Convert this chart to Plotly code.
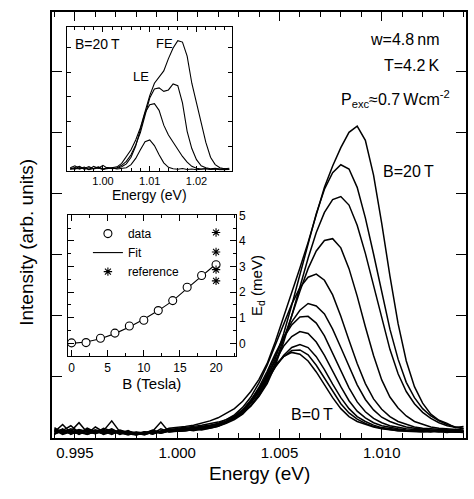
import plotly.graph_objects as go

# ---- main panel: PL spectra, B = 0 ... 20 T ----
energy = [0.9940, 0.9944, 0.9948, 0.9952, 0.9956, 0.9960, 0.9964, 0.9968, 0.9972, 0.9976,
          0.9980, 0.9984, 0.9988, 0.9992, 0.9996, 1.0000, 1.0004, 1.0008, 1.0012, 1.0016,
          1.0020, 1.0024, 1.0028, 1.0032, 1.0036, 1.0040, 1.0044, 1.0048, 1.0052, 1.0056,
          1.0060, 1.0064, 1.0068, 1.0072, 1.0076, 1.0080, 1.0084, 1.0088, 1.0092, 1.0096,
          1.0100, 1.0104, 1.0108, 1.0112, 1.0116, 1.0120, 1.0124, 1.0128, 1.0132, 1.0136,
          1.0140]

pl_0T = [0.10, 0.22, 0.08, 0.12, 0.06, 0.11, 0.09, 0.14, 0.07, 0.10, 0.05, 0.08, 0.12, 0.09, 0.13,
         0.11, 0.14, 0.12, 0.15, 0.18, 0.22, 0.27, 0.34, 0.46, 0.62, 0.81, 1.01, 1.20, 1.33, 1.40,
         1.37, 1.26, 1.08, 0.87, 0.66, 0.48, 0.35, 0.27, 0.22, 0.18, 0.15, 0.13, 0.12, 0.11, 0.11,
         0.10, 0.12, 0.10, 0.09, 0.11, 0.10]
pl_2T = [0.14, 0.07, 0.11, 0.25, 0.09, 0.13, 0.06, 0.10, 0.12, 0.08, 0.06, 0.09, 0.07, 0.15, 0.10,
         0.11, 0.12, 0.13, 0.14, 0.16, 0.19, 0.25, 0.32, 0.42, 0.57, 0.76, 0.97, 1.17, 1.33, 1.43,
         1.44, 1.36, 1.19, 0.98, 0.76, 0.56, 0.41, 0.31, 0.24, 0.19, 0.16, 0.14, 0.12, 0.12, 0.11,
         0.11, 0.10, 0.13, 0.10, 0.10, 0.09]
pl_4T = [0.06, 0.13, 0.09, 0.08, 0.14, 0.07, 0.12, 0.28, 0.10, 0.06, 0.08, 0.05, 0.10, 0.08, 0.12,
         0.11, 0.12, 0.14, 0.13, 0.16, 0.19, 0.24, 0.30, 0.39, 0.53, 0.72, 0.94, 1.16, 1.35, 1.48,
         1.53, 1.48, 1.33, 1.12, 0.88, 0.66, 0.48, 0.35, 0.27, 0.21, 0.17, 0.15, 0.13, 0.12, 0.12,
         0.11, 0.11, 0.10, 0.12, 0.10, 0.10]
pl_6T = [0.12, 0.09, 0.15, 0.10, 0.07, 0.18, 0.10, 0.08, 0.13, 0.09, 0.07, 0.10, 0.06, 0.11, 0.14,
         0.11, 0.12, 0.13, 0.15, 0.17, 0.20, 0.25, 0.33, 0.41, 0.58, 0.78, 1.02, 1.27, 1.50, 1.66,
         1.74, 1.71, 1.57, 1.35, 1.09, 0.84, 0.61, 0.44, 0.33, 0.25, 0.20, 0.17, 0.15, 0.13, 0.12,
         0.12, 0.11, 0.11, 0.10, 0.10, 0.10]
pl_8T = [0.08, 0.15, 0.06, 0.13, 0.11, 0.08, 0.16, 0.11, 0.07, 0.12, 0.06, 0.07, 0.11, 0.26, 0.10,
         0.12, 0.13, 0.14, 0.15, 0.18, 0.21, 0.27, 0.34, 0.45, 0.61, 0.83, 1.09, 1.38, 1.64, 1.85,
         1.98, 1.99, 1.88, 1.67, 1.39, 1.10, 0.82, 0.59, 0.43, 0.32, 0.25, 0.20, 0.17, 0.15, 0.14,
         0.13, 0.12, 0.12, 0.11, 0.11, 0.11]
pl_10T = [0.17, 0.08, 0.12, 0.07, 0.16, 0.10, 0.07, 0.13, 0.09, 0.05, 0.09, 0.06, 0.09, 0.10, 0.12,
          0.12, 0.13, 0.14, 0.16, 0.19, 0.22, 0.27, 0.34, 0.44, 0.59, 0.79, 1.05, 1.34, 1.64, 1.90,
          2.09, 2.20, 2.16, 2.03, 1.78, 1.48, 1.16, 0.87, 0.63, 0.46, 0.34, 0.27, 0.22, 0.18, 0.16,
          0.14, 0.13, 0.13, 0.12, 0.12, 0.11]
pl_12T = [0.09, 0.12, 0.20, 0.09, 0.08, 0.13, 0.11, 0.06, 0.12, 0.08, 0.10, 0.08, 0.13, 0.08, 0.11,
          0.13, 0.14, 0.15, 0.17, 0.20, 0.24, 0.30, 0.38, 0.50, 0.67, 0.90, 1.19, 1.52, 1.87, 2.19,
          2.46, 2.63, 2.68, 2.58, 2.34, 1.99, 1.60, 1.22, 0.89, 0.64, 0.47, 0.35, 0.27, 0.22, 0.18,
          0.16, 0.15, 0.14, 0.13, 0.13, 0.12]
pl_14T = [0.13, 0.06, 0.10, 0.14, 0.10, 0.07, 0.13, 0.09, 0.11, 0.07, 0.05, 0.10, 0.08, 0.12, 0.15,
          0.14, 0.15, 0.16, 0.18, 0.20, 0.22, 0.26, 0.32, 0.40, 0.53, 0.69, 0.92, 1.23, 1.60, 2.00,
          2.40, 2.77, 3.06, 3.23, 3.26, 3.11, 2.77, 2.32, 1.82, 1.35, 0.95, 0.67, 0.49, 0.36, 0.27,
          0.22, 0.18, 0.16, 0.15, 0.14, 0.13]
pl_16T = [0.07, 0.11, 0.08, 0.11, 0.13, 0.12, 0.08, 0.12, 0.06, 0.10, 0.08, 0.06, 0.10, 0.09, 0.13,
          0.15, 0.16, 0.17, 0.19, 0.21, 0.23, 0.27, 0.32, 0.41, 0.52, 0.68, 0.89, 1.19, 1.56, 2.00,
          2.47, 2.94, 3.36, 3.69, 3.90, 3.95, 3.81, 3.48, 3.02, 2.48, 1.94, 1.45, 1.05, 0.76, 0.56,
          0.42, 0.32, 0.25, 0.20, 0.17, 0.15]
pl_18T = [0.11, 0.14, 0.07, 0.09, 0.06, 0.10, 0.14, 0.07, 0.10, 0.11, 0.07, 0.09, 0.07, 0.11, 0.12,
          0.16, 0.17, 0.19, 0.21, 0.23, 0.26, 0.30, 0.36, 0.46, 0.58, 0.75, 0.99, 1.30, 1.70, 2.17,
          2.68, 3.19, 3.67, 4.07, 4.34, 4.47, 4.40, 4.10, 3.60, 3.01, 2.37, 1.78, 1.29, 0.91, 0.66,
          0.48, 0.36, 0.28, 0.22, 0.18, 0.16]
pl_20T = [0.15, 0.09, 0.13, 0.06, 0.12, 0.09, 0.10, 0.15, 0.08, 0.06, 0.09, 0.07, 0.12, 0.10, 0.16,
          0.17, 0.19, 0.21, 0.24, 0.28, 0.33, 0.40, 0.48, 0.60, 0.76, 0.96, 1.22, 1.58, 1.98, 2.36,
          2.78, 3.20, 3.65, 4.10, 4.45, 4.75, 5.00, 5.10, 4.87, 4.30, 3.51, 2.65, 1.87, 1.26, 0.84,
          0.57, 0.39, 0.29, 0.24, 0.17, 0.19]

spectra = [pl_0T, pl_2T, pl_4T, pl_6T, pl_8T, pl_10T, pl_12T, pl_14T, pl_16T, pl_18T, pl_20T]

# ---- upper inset: B = 20 T spectra ----
energy_in = [0.993, 0.994, 0.995, 0.996, 0.997, 0.998, 0.999, 1.000, 1.001, 1.002,
             1.003, 1.004, 1.005, 1.006, 1.007, 1.008, 1.009, 1.010, 1.011, 1.012,
             1.013, 1.014, 1.015, 1.016, 1.017, 1.018, 1.019, 1.020, 1.021, 1.022,
             1.023, 1.024, 1.025, 1.026, 1.027]
inset_a = [0.12, 0.20, 0.08, 0.15, 0.05, 0.18, 0.10, 0.22, 0.09, 0.14,
           0.16, 0.30, 0.55, 0.85, 1.25, 1.75, 2.40, 3.05, 3.55, 3.78,
           4.05, 4.55, 4.98, 5.28, 5.22, 4.65, 3.55, 2.75, 1.90, 1.15,
           0.55, 0.25, 0.12, 0.08, 0.10]
inset_b = [0.08, 0.14, 0.18, 0.06, 0.12, 0.09, 0.16, 0.07, 0.13, 0.10,
           0.12, 0.22, 0.38, 0.65, 1.05, 1.55, 2.25, 2.95, 3.32, 3.36,
           3.22, 3.28, 3.52, 3.45, 2.75, 1.60, 0.90, 0.45, 0.20, 0.12,
           0.08, 0.10, 0.07, 0.09, 0.06]
inset_c = [0.10, 0.06, 0.13, 0.09, 0.17, 0.07, 0.11, 0.05, 0.12, 0.08,
           0.10, 0.16, 0.28, 0.55, 1.00, 1.70, 2.35, 2.68, 2.72, 2.45,
           1.85, 1.45, 1.15, 0.85, 0.58, 0.35, 0.18, 0.10, 0.07, 0.09,
           0.05, 0.08, 0.06, 0.04, 0.07]
inset_d = [0.05, 0.10, 0.07, 0.12, 0.04, 0.09, 0.14, 0.06, 0.08, 0.11,
           0.07, 0.09, 0.12, 0.25, 0.50, 0.85, 1.18, 1.25, 1.02, 0.65,
           0.32, 0.14, 0.08, 0.06, 0.09, 0.05, 0.07, 0.04, 0.06, 0.08,
           0.05, 0.07, 0.04, 0.06, 0.05]

# ---- lower inset: E_d versus B ----
field = [0, 2, 4, 6, 8, 10, 12, 14, 16, 18, 20]
ed_data = [0.02, 0.03, 0.20, 0.40, 0.68, 0.90, 1.28, 1.67, 2.19, 2.65, 3.07]
ed_fit = [0.00, 0.05, 0.18, 0.38, 0.64, 0.94, 1.28, 1.66, 2.15, 2.62, 3.10]
ref_field = [20, 20, 20, 20]
ed_ref = [4.33, 3.57, 2.88, 2.44]

W, H = 474, 499
ML, MR, MT, MB = 52, 7, 6, 61
PW, PH = W - ML - MR, H - MT - MB


def px(x):
    return (x - ML) / PW


def py(y):
    return (H - MB - y) / PH


FONT = "Liberation Sans, Arial, Helvetica, sans-serif"

fig = go.Figure()

for s in spectra:
    fig.add_trace(go.Scatter(x=energy, y=s, mode="lines", line=dict(color="black", width=1.5),
                             showlegend=False, xaxis="x", yaxis="y"))

for s in [inset_a, inset_b, inset_c, inset_d]:
    fig.add_trace(go.Scatter(x=energy_in, y=s, mode="lines", line=dict(color="black", width=1.1),
                             showlegend=False, xaxis="x2", yaxis="y2"))

fig.add_trace(go.Scatter(x=field, y=ed_fit, mode="lines", name="Fit", legendrank=2,
                         line=dict(color="black", width=1.1), xaxis="x3", yaxis="y3"))
fig.add_trace(go.Scatter(x=field, y=ed_data, mode="markers", name="data", legendrank=1,
                         marker=dict(symbol="circle", size=8, color="white",
                                     line=dict(color="black", width=1.1)),
                         xaxis="x3", yaxis="y3"))
fig.add_trace(go.Scatter(x=ref_field, y=ed_ref, mode="markers", name="reference", legendrank=3,
                         marker=dict(symbol="asterisk-open", size=7, color="black",
                                     line=dict(color="black", width=1.1)),
                         xaxis="x3", yaxis="y3"))

axis_common = dict(showline=True, linecolor="black", mirror="ticks", ticks="inside",
                   tickcolor="black", showgrid=False, zeroline=False)

fig.update_layout(
    width=W, height=H,
    margin=dict(l=ML, r=MR, t=MT, b=MB),
    paper_bgcolor="white", plot_bgcolor="white",
    font=dict(family=FONT, color="black"),
    xaxis=dict(axis_common, domain=[0, 1], anchor="y", range=[0.99388, 1.01412],
               tick0=0.995, dtick=0.005, tickformat=".3f", ticklen=9, tickwidth=1.2,
               linewidth=1.5, tickfont=dict(size=15),
               minor=dict(dtick=0.001, tick0=0.995, ticklen=5, ticks="inside",
                          tickcolor="black", tickwidth=1)),
    yaxis=dict(axis_common, domain=[0, 1], anchor="x", range=[0, 6.968], tick0=0, dtick=1,
               ticklen=10, tickwidth=1.2, linewidth=1.5, showticklabels=False),
    xaxis2=dict(axis_common, domain=[px(67), px(232)], anchor="y2", range=[0.9923, 1.0275],
                tick0=1.0, dtick=0.01, tickformat=".2f", ticklen=5, linewidth=1,
                tickfont=dict(size=11),
                minor=dict(dtick=0.002, tick0=1.0, ticklen=3, ticks="inside", tickcolor="black"),
                title=dict(text="Energy (eV)", font=dict(size=14), standoff=1)),
    yaxis2=dict(axis_common, domain=[py(167), py(21)], anchor="x2", range=[0, 5.84],
                tick0=0, dtick=1, ticklen=4, linewidth=1, showticklabels=False),
    xaxis3=dict(axis_common, domain=[px(68), px(236)], anchor="y3", range=[-0.5, 22.7],
                tick0=0, dtick=5, ticklen=6, linewidth=1, tickfont=dict(size=12),
                minor=dict(dtick=2.5, tick0=0, ticklen=3, ticks="inside", tickcolor="black"),
                title=dict(text="B (Tesla)", font=dict(size=15), standoff=2)),
    yaxis3=dict(axis_common, domain=[py(355), py(211.7)], anchor="x3", side="right",
                range=[-0.5, 5.02], tick0=0, dtick=1, ticklen=6, linewidth=1,
                tickfont=dict(size=12),
                minor=dict(dtick=0.5, tick0=0, ticklen=3, ticks="inside", tickcolor="black"),
                title=dict(text="E<sub>d</sub> (meV)", font=dict(size=15), standoff=6)),
    legend=dict(x=px(88), y=py(216), xanchor="left", yanchor="top",
                bgcolor="rgba(0,0,0,0)", font=dict(size=12), tracegroupgap=0,
                itemwidth=30),
)

ann = [
    dict(text="Energy (eV)", x=px(260), y=py(474), font=dict(size=19)),
    dict(text="Intensity (arb. units)", x=px(27), y=py(240), textangle=-90, font=dict(size=19)),
    dict(text="w=4.8\u2009nm", x=px(443), y=py(34), xanchor="right", font=dict(size=16)),
    dict(text="T=4.2\u2009K", x=px(443), y=py(60), xanchor="right", font=dict(size=16)),
    dict(text="P<sub>exc</sub>\u22480.7\u2009Wcm<sup>-2</sup>", x=px(453), y=py(94),
         xanchor="right", font=dict(size=16)),
    dict(text="B=20\u2009T", x=px(382), y=py(168), xanchor="left", font=dict(size=16)),
    dict(text="B=0\u2009T", x=px(290), y=py(414), xanchor="left", font=dict(size=16)),
    dict(text="B=20\u2009T", x=px(73), y=py(38), xanchor="left", font=dict(size=14)),
    dict(text="FE", x=px(154), y=py(38), xanchor="left", font=dict(size=13)),
    dict(text="LE", x=px(131), y=py(71), xanchor="left", font=dict(size=13)),
]
for a in ann:
    a.setdefault("xanchor", "center")
    fig.add_annotation(xref="paper", yref="paper", showarrow=False, yanchor="middle", **a)

# page margin off so the figure sits at the window's top-left corner
fig.write_html("out.html", config={"displayModeBar": False},
               post_script="document.body.style.margin='0';")
